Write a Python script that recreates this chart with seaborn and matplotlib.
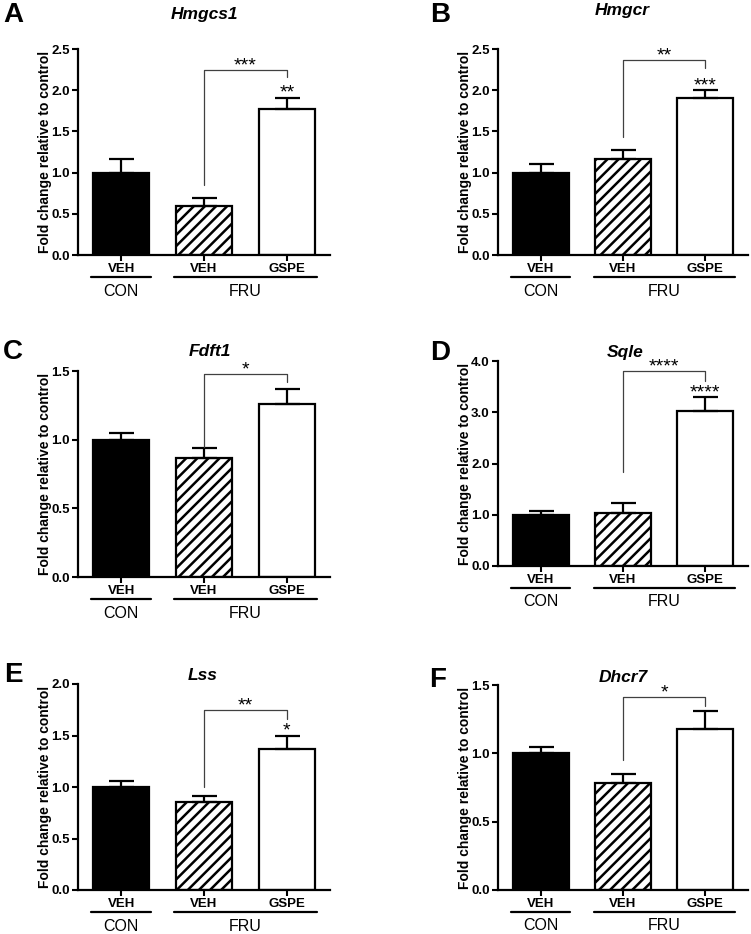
import numpy as np
import pandas as pd
import matplotlib
matplotlib.use("Agg")
import matplotlib.pyplot as plt
import matplotlib.transforms as mtransforms
import seaborn as sns

# data
genes = ["Hmgcs1", "Hmgcr", "Fdft1", "Sqle", "Lss", "Dhcr7"]
letters = ["A", "B", "C", "D", "E", "F"]
groups = ["CON-VEH", "FRU-VEH", "FRU-GSPE"]
tick_labels = ["VEH", "VEH", "GSPE"]

con_veh = [1.00, 1.00, 1.00, 1.00, 1.00, 1.00]
fru_veh = [0.59, 1.17, 0.87, 1.04, 0.85, 0.78]
fru_gspe = [1.77, 1.91, 1.26, 3.02, 1.37, 1.18]

con_veh_sem = [0.16, 0.10, 0.05, 0.07, 0.06, 0.05]
fru_veh_sem = [0.10, 0.10, 0.07, 0.18, 0.06, 0.07]
fru_gspe_sem = [0.14, 0.09, 0.11, 0.28, 0.13, 0.13]

y_max = [2.5, 2.5, 1.5, 4.0, 2.0, 1.5]
y_step = [0.5, 0.5, 0.5, 1.0, 0.5, 0.5]

# significance brackets (FRU-VEH vs FRU-GSPE) and vs control
bracket_y = [2.245, 2.37, 1.475, 3.80, 1.75, 1.41]
bracket_left_foot = [0.85, 1.43, 0.95, 1.84, 1.00, 0.95]
bracket_right_foot = [2.16, 2.27, 1.42, 3.61, 1.66, 1.35]
stars_bracket = ["***", "**", "*", "****", "**", "*"]
stars_bar = ["**", "***", "", "****", "*", ""]

# layout in pixels (left, right, top, bottom) of each axes
W, H = 751, 934
boxes = [(78, 330, 49, 255), (498, 748, 49, 255),
         (78, 330, 371, 577), (498, 748, 361, 566),
         (78, 330, 684, 890), (498, 748, 685, 890)]
title_pos = [(204, 15), (622, 11), (210, 351), (625, 352), (203, 675), (623, 677)]
letter_pos = [(13, 15), (440, 15), (13, 352), (440, 353), (13, 675), (438, 680)]

sns.set_style("ticks")
plt.rcParams["font.family"] = ["Liberation Sans", "DejaVu Sans"]
plt.rcParams["hatch.linewidth"] = 1.8
plt.rcParams["hatch.color"] = "black"
for key in ["text.color", "axes.labelcolor", "xtick.color", "ytick.color",
            "axes.edgecolor"]:
    plt.rcParams[key] = "black"

fig = plt.figure(figsize=(W / 100, H / 100), dpi=100)

for i, gene in enumerate(genes):
    l, r, t, b = boxes[i]
    ax = fig.add_axes([l / W, 1 - b / H, (r - l) / W, (b - t) / H])

    df = pd.DataFrame({
        "group": groups,
        "fold": [con_veh[i], fru_veh[i], fru_gspe[i]],
        "sem": [con_veh_sem[i], fru_veh_sem[i], fru_gspe_sem[i]],
    })

    sns.barplot(data=df, x="group", y="fold", hue="group", order=groups,
                palette=["black", "white", "white"], legend=False,
                edgecolor="black", linewidth=1.6, width=0.675,
                errorbar=None, ax=ax)
    ax.patches[1].set_hatch("///")

    ax.errorbar(np.arange(3), df["fold"], yerr=[np.zeros(3), df["sem"]],
                fmt="none", ecolor="black", elinewidth=1.6, capsize=9,
                capthick=1.6, zorder=1)

    ax.set_xlim(-0.52, 2.52)
    ax.set_ylim(0, y_max[i])
    ax.set_yticks(np.arange(0, y_max[i] + 1e-9, y_step[i]))
    ax.set_yticklabels([f"{v:.1f}" for v in ax.get_yticks()],
                       fontsize=9.5, fontweight="bold")
    ax.set_xticks(range(3))
    ax.set_xticklabels(tick_labels, fontsize=9.5, fontweight="bold")
    ax.set_xlabel("")
    ax.set_ylabel("Fold change relative to control", fontsize=10,
                  fontweight="bold")
    ax.yaxis.set_label_coords(-0.103, 0.5)
    ax.tick_params(direction="out", length=4, width=1.5, pad=2)
    for side in ["left", "bottom"]:
        ax.spines[side].set_linewidth(1.6)
    sns.despine(ax=ax)

    # group lines and labels under the axis
    trans = mtransforms.blended_transform_factory(ax.transData, ax.transAxes)
    hw = 0.675 / 2 + 0.02
    ax.plot([0 - hw, 0 + hw], [-0.107, -0.107], color="black", lw=1.6,
            transform=trans, clip_on=False)
    ax.plot([1 - hw, 2 + hw], [-0.107, -0.107], color="black", lw=1.6,
            transform=trans, clip_on=False)
    ax.text(0, -0.175, "CON", transform=trans, ha="center", va="center",
            fontsize=11.5)
    ax.text(1.5, -0.175, "FRU", transform=trans, ha="center", va="center",
            fontsize=11.5)

    # bracket
    ax.plot([1, 1, 2, 2],
            [bracket_left_foot[i], bracket_y[i], bracket_y[i], bracket_right_foot[i]],
            color="0.25", lw=0.9, clip_on=False)
    ax.annotate(stars_bracket[i], xy=(1.5, bracket_y[i]), xytext=(0, 3),
                textcoords="offset points", ha="center", va="center",
                fontsize=14, annotation_clip=False)
    if stars_bar[i]:
        top = df["fold"][2] + df["sem"][2]
        ax.annotate(stars_bar[i], xy=(2, top), xytext=(0, 3),
                    textcoords="offset points", ha="center", va="center",
                    fontsize=14, annotation_clip=False)

    tx, ty = title_pos[i]
    fig.text(tx / W, 1 - ty / H, gene, ha="center", va="center",
             fontsize=12.5, fontweight="bold", fontstyle="italic")
    lx, ly = letter_pos[i]
    fig.text(lx / W, 1 - ly / H, letters[i], ha="center", va="center",
             fontsize=20, fontweight="bold")

fig.savefig("out.png", dpi=100)
